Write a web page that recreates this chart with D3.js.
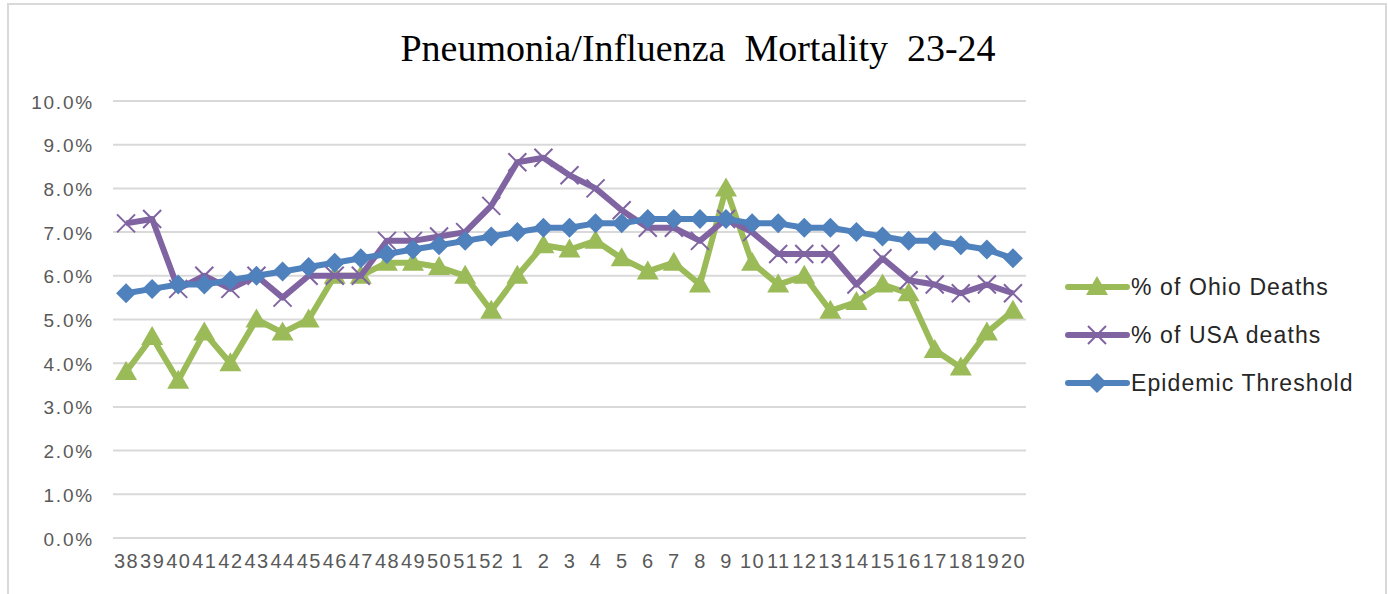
<!DOCTYPE html>
<html><head><meta charset="utf-8">
<script src="https://cdn.jsdelivr.net/npm/d3@7"></script>
<style>html,body{margin:0;padding:0;background:#fff;}svg{display:block;}</style>
</head><body>
<svg id="c" width="1388" height="594"></svg>
<script>
const categories = ["38","39","40","41","42","43","44","45","46","47","48","49","50","51","52","1","2","3","4","5","6","7","8","9","10","11","12","13","14","15","16","17","18","19","20"];
const ohioDeaths = [3.8,4.6,3.6,4.7,4.0,5.0,4.7,5.0,6.0,6.0,6.3,6.3,6.2,6.0,5.2,6.0,6.7,6.6,6.8,6.4,6.1,6.3,5.8,8.0,6.3,5.8,6.0,5.2,5.4,5.8,5.6,4.3,3.9,4.7,5.2];
const usaDeaths = [7.2,7.3,5.7,6.0,5.7,6.0,5.5,6.0,6.0,6.0,6.8,6.8,6.9,7.0,7.6,8.6,8.7,8.3,8.0,7.5,7.1,7.1,6.8,7.3,7.0,6.5,6.5,6.5,5.8,6.4,5.9,5.8,5.6,5.8,5.6];
const threshold = [5.6,5.7,5.8,5.8,5.9,6.0,6.1,6.2,6.3,6.4,6.5,6.6,6.7,6.8,6.9,7.0,7.1,7.1,7.2,7.2,7.3,7.3,7.3,7.3,7.2,7.2,7.1,7.1,7.0,6.9,6.8,6.8,6.7,6.6,6.4];
const yTicks = [0,1,2,3,4,5,6,7,8,9,10];
const seriesNames = ["% of Ohio Deaths","% of USA deaths","Epidemic Threshold"];

const series = [
  {name: seriesNames[0], values: ohioDeaths, color: "#9BBB59", marker: "triangle"},
  {name: seriesNames[1], values: usaDeaths, color: "#8064A2", marker: "x"},
  {name: seriesNames[2], values: threshold, color: "#4F81BD", marker: "diamond"}
];

const svg = d3.select("#c");
const L = 113, R = 1026, T = 101, B = 538;

svg.append("rect").attr("x",8).attr("y",4).attr("width",1378).attr("height",600)
  .attr("fill","#fff").attr("stroke","#d9d9d9").attr("stroke-width",2);

const x = d3.scalePoint().domain(categories).range([L, R]).padding(0.5);
const y = d3.scaleLinear().domain([0,10]).range([B, T]);

svg.append("g").selectAll("line").data(yTicks).join("line")
  .attr("x1",L).attr("x2",R).attr("y1",d=>y(d)).attr("y2",d=>y(d))
  .attr("stroke","#d9d9d9").attr("stroke-width",2);

const yAxis = d3.axisLeft(y).tickValues(yTicks).tickFormat(d=>d.toFixed(1)+"%").tickSize(0).tickPadding(0);
const gy = svg.append("g").attr("transform",`translate(${L-19},1)`).call(yAxis);
gy.select(".domain").remove();
gy.selectAll("text").attr("font-family","Liberation Sans, Arial, sans-serif").attr("font-size",19)
  .attr("fill","#595959").attr("letter-spacing","1.8px");

const xAxis = d3.axisBottom(x).tickSize(0).tickPadding(0);
const gx = svg.append("g").attr("transform",`translate(0,${B+16})`).call(xAxis);
gx.select(".domain").remove();
gx.selectAll("text").attr("font-family","Liberation Sans, Arial, sans-serif").attr("font-size",20)
  .attr("fill","#595959").attr("letter-spacing","1.4px");

svg.append("text").attr("x",698).attr("y",61).attr("text-anchor","middle")
  .attr("font-family","Liberation Serif, Times New Roman, serif").attr("font-size",38)
  .attr("fill","#000").style("white-space","pre")
  .text("Pneumonia/Influenza  Mortality  23-24");

function drawMarker(g, type, color, cx, cy){
  if(type==="triangle"){
    g.append("path").attr("d",`M${cx},${cy-11}L${cx+11},${cy+8}L${cx-11},${cy+8}Z`).attr("fill",color);
  } else if(type==="diamond"){
    g.append("path").attr("d",`M${cx},${cy-10}L${cx+10},${cy}L${cx},${cy+10}L${cx-10},${cy}Z`).attr("fill",color);
  } else {
    g.append("path").attr("d",`M${cx-9},${cy-9}L${cx+9},${cy+9}M${cx+9},${cy-9}L${cx-9},${cy+9}`)
      .attr("stroke",color).attr("stroke-width",2).attr("fill","none");
  }
}

const line = d3.line().x((d,i)=>x(categories[i])).y(d=>y(d));
series.forEach(s=>{
  const g = svg.append("g");
  g.append("path").datum(s.values).attr("d",line).attr("fill","none")
    .attr("stroke",s.color).attr("stroke-width",6).attr("stroke-linejoin","round");
  s.values.forEach((v,i)=>drawMarker(g, s.marker, s.color, x(categories[i]), y(v)));
});

const legY = [287, 335, 383];
series.forEach((s,i)=>{
  const g = svg.append("g");
  g.append("line").attr("x1",1068).attr("x2",1127).attr("y1",legY[i]).attr("y2",legY[i])
    .attr("stroke",s.color).attr("stroke-width",6).attr("stroke-linecap","round");
  drawMarker(g, s.marker, s.color, 1097, legY[i]);
  g.append("text").attr("x",1131).attr("y",legY[i]+8)
    .attr("font-family","Liberation Sans, Arial, sans-serif").attr("font-size",23)
    .attr("fill","#262626").attr("letter-spacing","1.1px").text(s.name);
});
</script>
</body></html>
